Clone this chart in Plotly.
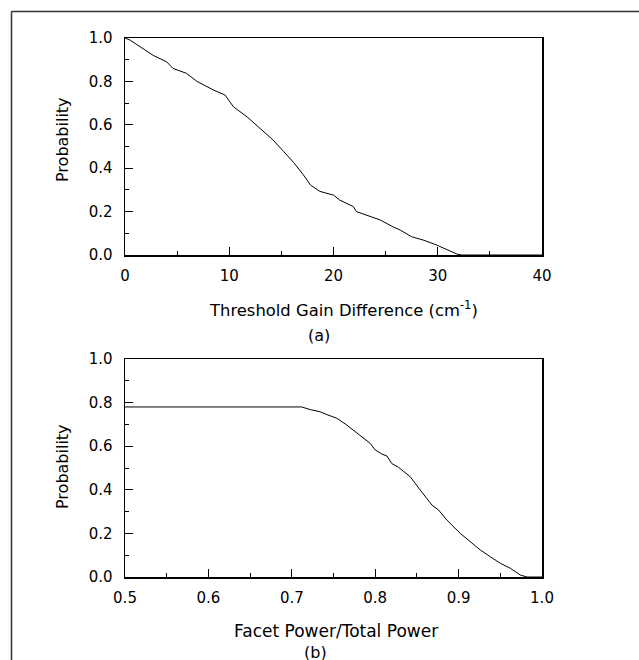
import plotly.graph_objects as go

# Panel (a): threshold gain difference vs probability
gain_x = [0, 0.5, 1.44, 2.7, 4.0, 4.6, 5.9, 6.9, 8.5, 9.6, 10.4, 11.7, 12.8, 14.2, 15.2,
          16.2, 17.1, 17.8, 18.7, 20.0, 20.6, 21.9, 22.2, 23.5, 24.5, 25.7, 26.4, 27.5,
          28.6, 29.9, 30.9, 31.8, 32.3, 40]
gain_p = [1.0, 0.99, 0.96, 0.92, 0.89, 0.86, 0.837, 0.80, 0.76, 0.737, 0.683, 0.637, 0.59,
          0.53, 0.478, 0.425, 0.37, 0.322, 0.293, 0.276, 0.253, 0.223, 0.2, 0.177, 0.161,
          0.13, 0.115, 0.084, 0.069, 0.046, 0.023, 0.005, 0.0, 0.0]

# Panel (b): facet power / total power vs probability
facet_x = [0.5, 0.712, 0.722, 0.734, 0.742, 0.754, 0.766, 0.782, 0.794, 0.8, 0.808, 0.814,
           0.82, 0.828, 0.842, 0.854, 0.868, 0.876, 0.886, 0.902, 0.912, 0.926, 0.938,
           0.95, 0.962, 0.974, 0.982, 1.0]
facet_p = [0.78, 0.78, 0.768, 0.758, 0.745, 0.728, 0.697, 0.651, 0.613, 0.583, 0.564, 0.555,
           0.52, 0.503, 0.46, 0.399, 0.33, 0.307, 0.261, 0.2, 0.17, 0.124, 0.093, 0.063,
           0.04, 0.009, 0.0, 0.0]

y_ticks = [0.0, 0.2, 0.4, 0.6, 0.8, 1.0]
gain_ticks = [0, 10, 20, 30, 40]
facet_ticks = [0.5, 0.6, 0.7, 0.8, 0.9, 1.0]

W, H = 639, 660
FONT = "DejaVu Sans"

def px(x):
    return x / W

def py(y):
    return 1 - y / H

fig = go.Figure()
fig.add_trace(go.Scatter(x=gain_x, y=gain_p, mode="lines", xaxis="x", yaxis="y",
                         line=dict(color="black", width=1), cliponaxis=False,
                         showlegend=False, hoverinfo="skip"))
fig.add_trace(go.Scatter(x=facet_x, y=facet_p, mode="lines", xaxis="x2", yaxis="y2",
                         line=dict(color="black", width=1), cliponaxis=False,
                         showlegend=False, hoverinfo="skip"))

axis_common = dict(showline=True, linecolor="black", linewidth=1.5, mirror=True,
                   ticks="inside", ticklen=8, tickwidth=1.2, tickcolor="black",
                   showgrid=False, zeroline=False, automargin=False,
                   tickfont=dict(family=FONT, size=15, color="black"))

xl, xr = px(125), px(542)
fig.update_layout(
    width=W, height=H, autosize=False,
    margin=dict(l=0, r=0, t=0, b=0, pad=0),
    paper_bgcolor="white", plot_bgcolor="white",
    xaxis=dict(domain=[xl, xr], range=[0, 40], tickvals=gain_ticks,
               minor=dict(ticks="inside", ticklen=4, dtick=5, tickcolor="black", tickwidth=1),
               anchor="y", ticklabelstandoff=6, **axis_common),
    yaxis=dict(domain=[py(255), py(38)], range=[0, 1], tickvals=y_ticks, tickformat=".1f",
               minor=dict(ticks="inside", ticklen=4, dtick=0.1, tickcolor="black", tickwidth=1),
               anchor="x", ticklabelstandoff=8, **axis_common),
    xaxis2=dict(domain=[xl, xr], range=[0.5, 1.0], tickvals=facet_ticks, tickformat=".1f",
                minor=dict(ticks="inside", ticklen=4, dtick=0.05, tickcolor="black", tickwidth=1),
                anchor="y2", ticklabelstandoff=6, **axis_common),
    yaxis2=dict(domain=[py(577), py(359)], range=[0, 1], tickvals=y_ticks, tickformat=".1f",
                minor=dict(ticks="inside", ticklen=4, dtick=0.1, tickcolor="black", tickwidth=1),
                anchor="x2", ticklabelstandoff=8, **axis_common),
)

def label(text, x, y, size=16, angle=0):
    fig.add_annotation(text=text, x=px(x), y=py(y), xref="paper", yref="paper",
                       xanchor="center", yanchor="middle", showarrow=False,
                       textangle=angle, font=dict(family=FONT, size=size, color="black"))

label("Threshold Gain Difference (cm<sup>-1</sup>)", 343.5, 309, 16.4)
label("(a)", 319, 336)
label("Probability", 62.5, 139.5, 16, -90)
label("Facet Power/Total Power", 335.5, 631, 17)
label("(b)", 315, 652)
label("Probability", 62.5, 466.5, 16, -90)

# outer frame (top and left edges visible)
fig.add_shape(type="line", xref="paper", yref="paper", x0=px(11.5), y0=py(11.5),
              x1=1, y1=py(11.5), line=dict(color="#333333", width=1.5))
fig.add_shape(type="line", xref="paper", yref="paper", x0=px(11.5), y0=py(11.5),
              x1=px(11.5), y1=0, line=dict(color="#333333", width=1.5))

fig.write_html(
    "out.html",
    config={"displayModeBar": False, "staticPlot": True},
    post_script="document.body.style.margin='0';document.body.style.overflow='hidden';",
)
